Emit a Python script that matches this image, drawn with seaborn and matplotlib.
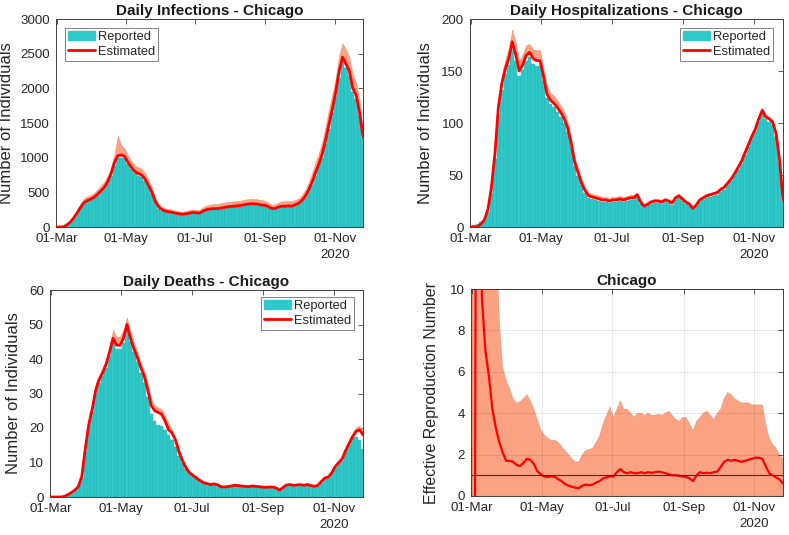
import numpy as np
import pandas as pd
import matplotlib
matplotlib.use("Agg")
import matplotlib.pyplot as plt
import seaborn as sns
from matplotlib.patches import Patch
from matplotlib.lines import Line2D

# ---------------- data (values every 3 days, 01-Mar-2020 .. 26-Nov-2020) ----------------
dates = pd.date_range("2020-03-01", "2020-11-26", freq="3D")

inf_reported = [0, 0, 0, 20, 60, 120, 190, 270, 340, 370,
                390, 420, 450, 500, 550, 620, 740, 880, 990, 1000,
                990, 910, 830, 780, 740, 720, 660, 570, 470, 340,
                260, 230, 215, 205, 195, 185, 180, 175, 180, 190,
                200, 195, 190, 215, 235, 245, 250, 250, 255, 265,
                275, 280, 285, 290, 295, 305, 315, 320, 320, 315,
                305, 300, 285, 260, 255, 270, 285, 285, 290, 285,
                305, 325, 360, 420, 500, 610, 740, 860, 1000, 1200,
                1420, 1650, 1880, 2150, 2380, 2300, 2180, 1950, 1850, 1600,
                1280]
inf_estimated = [0, 0, 2, 30, 70, 130, 200, 280, 350, 380,
                 400, 430, 470, 520, 570, 650, 770, 930, 1030, 1040,
                 1020, 930, 860, 800, 770, 750, 690, 600, 500, 370,
                 290, 250, 230, 220, 210, 200, 190, 185, 190, 200,
                 210, 205, 200, 230, 250, 260, 265, 265, 270, 280,
                 290, 295, 300, 305, 310, 320, 330, 335, 335, 330,
                 320, 315, 300, 270, 265, 285, 300, 300, 305, 300,
                 320, 340, 380, 440, 530, 640, 780, 900, 1050, 1250,
                 1480, 1700, 1950, 2250, 2450, 2350, 2250, 2000, 1900, 1650,
                 1300]
inf_upper = [0, 0, 5, 45, 95, 165, 245, 330, 410, 440,
             460, 490, 540, 600, 650, 740, 860, 1050, 1320, 1180,
             1130, 1030, 950, 890, 860, 840, 780, 680, 570, 420,
             330, 290, 270, 260, 250, 235, 225, 220, 230, 245,
             255, 250, 245, 285, 310, 320, 330, 330, 340, 350,
             360, 365, 370, 375, 380, 390, 400, 410, 405, 400,
             390, 380, 360, 325, 325, 350, 370, 370, 375, 370,
             390, 410, 460, 530, 640, 770, 930, 1060, 1230, 1450,
             1700, 1920, 2150, 2480, 2650, 2560, 2450, 2200, 2080, 1820,
             1380]

hos_reported = [1, 2, 3, 5, 6, 14, 33, 65, 108, 132,
                147, 156, 170, 160, 145, 151, 160, 163, 157, 155,
                155, 140, 124, 118, 115, 111, 106, 100, 91, 76,
                59, 49, 40, 33, 28, 27, 26, 25, 24, 24,
                23, 24, 24, 25, 24, 25, 26, 26, 29, 22,
                19, 21, 22, 23, 23, 22, 24, 23, 21, 26,
                28, 25, 22, 20, 17, 20, 24, 26, 28, 29,
                30, 31, 34, 36, 40, 44, 49, 55, 61, 69,
                77, 85, 92, 101, 109, 104, 101, 98, 87, 62,
                25]
hos_estimated = [0, 0, 0, 3, 7, 17, 38, 70, 115, 138,
                 152, 162, 178, 166, 150, 156, 165, 168, 162, 160,
                 160, 145, 128, 122, 119, 115, 110, 104, 95, 80,
                 62, 52, 42, 35, 30, 29, 28, 27, 26, 26,
                 25, 26, 26, 27, 26, 27, 28, 28, 31, 24,
                 20, 22, 24, 25, 25, 24, 26, 25, 23, 28,
                 30, 27, 24, 22, 18, 21, 26, 28, 30, 31,
                 32, 33, 36, 38, 42, 46, 51, 57, 63, 71,
                 79, 87, 94, 104, 112, 106, 104, 101, 90, 65,
                 26]
hos_upper = [0, 0, 0, 4, 8, 19, 41, 75, 122, 146,
             161, 172, 190, 178, 160, 166, 175, 176, 171, 170,
             170, 153, 136, 129, 126, 122, 117, 111, 101, 86,
             67, 56, 46, 38, 33, 32, 31, 30, 29, 29,
             28, 29, 29, 30, 29, 30, 31, 31, 33, 26,
             22, 24, 26, 27, 27, 26, 28, 27, 25, 30,
             32, 29, 26, 24, 20, 23, 28, 30, 32, 33,
             34, 35, 38, 40, 44, 48, 53, 59, 65, 73,
             81, 89, 96, 106, 115, 109, 106, 103, 92, 67,
             27]

dth_reported = [0, 0, 0, 0, 0.1, 0.5, 1.0, 1.8, 2.8, 5.5,
                13, 20, 24.5, 30, 33, 35, 37.5, 41, 44.5, 43,
                43, 44.5, 48, 45, 42, 39, 36, 33, 29, 24,
                22, 21, 20.5, 19.5, 18, 16.5, 14.5, 12, 10, 8,
                6.6, 6, 5.2, 4.5, 4, 3.7, 3.4, 3.6, 3.4, 2.8,
                2.7, 2.8, 3, 3.2, 3.1, 3, 2.9, 2.8, 3, 2.9,
                2.8, 2.7, 2.6, 2.7, 2.7, 2.4, 1.9, 2.6, 3.3, 3.4,
                3.2, 3.3, 3.4, 3.2, 3.4, 3.1, 2.9, 3.2, 4.2, 5.2,
                5.5, 6.6, 8.4, 9.6, 10.5, 13, 15, 17, 17.5, 16.5,
                14]
dth_estimated = [0, 0, 0, 0, 0.2, 0.7, 1.3, 2.0, 3.0, 6,
                 14, 21, 25.5, 31, 34, 36, 38.5, 42, 46, 44,
                 44, 46, 50, 46, 43, 40.5, 37.5, 35, 31, 26.5,
                 25, 24.5, 24, 22, 19.5, 18.5, 16.5, 13, 10.5, 8.5,
                 7, 6.3, 5.5, 4.8, 4.2, 3.9, 3.6, 3.8, 3.6, 3.0,
                 2.9, 3.0, 3.2, 3.4, 3.3, 3.2, 3.1, 3.0, 3.2, 3.1,
                 3.0, 2.9, 2.8, 2.9, 2.9, 2.6, 2.0, 2.8, 3.5, 3.6,
                 3.4, 3.5, 3.6, 3.4, 3.6, 3.3, 3.1, 3.4, 4.5, 5.5,
                 5.8, 7, 8.8, 10, 11, 13.5, 15.5, 17.5, 19, 19.5,
                 18]
dth_upper = [0, 0, 0, 0, 0.3, 0.8, 1.5, 2.3, 3.4, 6.6,
             15, 22, 26.5, 33, 35.5, 37.5, 40, 44, 48.5, 46.5,
             46.5, 48.5, 52, 48, 45, 42, 39, 36.5, 33, 28.5,
             26.5, 26, 25.5, 23.5, 21.5, 19.5, 17, 14, 11.3, 9.2,
             7.6, 6.8, 6, 5.2, 4.6, 4.3, 4.0, 4.2, 4.0, 3.4,
             3.2, 3.3, 3.5, 3.7, 3.6, 3.5, 3.4, 3.3, 3.5, 3.4,
             3.3, 3.2, 3.1, 3.2, 3.2, 2.9, 2.3, 3.1, 3.8, 3.9,
             3.7, 3.8, 3.9, 3.7, 3.9, 3.6, 3.4, 3.7, 4.9, 5.9,
             6.2, 7.5, 9.4, 10.7, 11.8, 14.4, 16.5, 18.6, 20.2, 20.7,
             19.2]

rt_estimated = [np.nan, 0, 60, 9.5, 7.0, 5.8, 4.2, 3.3, 2.6, 2.1,
                1.7, 1.7, 1.65, 1.5, 1.45, 1.6, 1.8, 1.75, 1.55, 1.2,
                1.05, 0.95, 0.92, 0.95, 0.93, 0.82, 0.72, 0.58, 0.5, 0.45,
                0.4, 0.38, 0.5, 0.55, 0.52, 0.55, 0.65, 0.72, 0.85, 0.9,
                0.95, 0.95, 1.15, 1.3, 1.15, 1.1, 1.15, 1.1, 1.1, 1.15,
                1.1, 1.15, 1.12, 1.15, 1.18, 1.15, 1.1, 1.05, 1.0, 1.0,
                0.98, 0.95, 0.92, 0.85, 0.72, 1.0, 1.15, 1.1, 1.12, 1.1,
                1.15, 1.18, 1.4, 1.65, 1.75, 1.7, 1.75, 1.7, 1.65, 1.7,
                1.75, 1.8, 1.85, 1.85, 1.8, 1.45, 1.1, 1.0, 0.9, 0.8,
                0.6]
rt_upper = [30, 30, 30, 30, 30, 25, 20, 14, 8.5, 6.2,
            5.6, 5.2, 4.7, 4.5, 4.55, 4.7, 4.9, 4.6, 4.2, 3.7,
            3.2, 2.95, 2.8, 2.7, 2.7, 2.6, 2.4, 2.2, 2.0, 1.8,
            1.65, 1.65, 2.0, 2.2, 2.25, 2.3, 2.6, 2.9, 3.5, 3.9,
            4.3, 3.8, 4.2, 4.6, 4.2, 4.2, 4.0, 3.8, 4.0, 4.0,
            3.9, 4.0, 3.9, 3.9, 3.95, 3.9, 4.0, 4.1, 3.9, 3.7,
            3.6, 3.8, 3.8, 3.5, 3.15, 3.6, 3.8, 4.0, 4.1, 3.9,
            3.7, 4.0, 4.2, 4.7, 5.0, 4.9, 4.7, 4.6, 4.5, 4.5,
            4.5, 4.4, 4.4, 4.4, 4.4, 3.5, 2.8, 2.5, 2.3, 2.0,
            1.8]
rt_lower = [0] * len(rt_upper)

tick_dates = pd.to_datetime(["2020-03-01", "2020-05-01", "2020-07-01", "2020-09-01", "2020-11-01"])
tick_labels = ["01-Mar", "01-May", "01-Jul", "01-Sep", "01-Nov\n2020"]

titles = ["Daily Infections - Chicago", "Daily Hospitalizations - Chicago",
          "Daily Deaths - Chicago", "Chicago"]

# ---------------- style ----------------
sns.set_theme(style="white")
plt.rcParams['font.family'] = ['Liberation Sans', 'DejaVu Sans']

TEAL = '#30C9C9'
TEAL_EDGE = '#27AFAF'
BAND = '#FBA283'
RED = '#FF0000'
AXC = '#404040'

start = dates[0]
day = np.asarray((dates - start).days, dtype=float)
tick_pos = np.asarray((tick_dates - start).days, dtype=float)
XMAX = float((pd.Timestamp("2020-11-26") - start).days)

fig = plt.figure(figsize=(7.89, 5.35), dpi=100)
positions = [
    [56 / 789, 1 - 227 / 535, 307 / 789, 208 / 535],
    [470 / 789, 1 - 227 / 535, 313 / 789, 208 / 535],
    [50 / 789, 1 - 497 / 535, 313 / 789, 207 / 535],
    [471 / 789, 1 - 496 / 535, 312 / 789, 207 / 535],
]
axes = [fig.add_axes(p) for p in positions]


def style_axes(ax, yticks, ylabel, title, labelpad):
    ax.set_xlim(-0.5, XMAX)
    ax.set_ylim(yticks[0], yticks[-1])
    ax.set_yticks(yticks)
    ax.set_xticks(tick_pos)
    ax.set_xticklabels(tick_labels)
    for lab in ax.get_xticklabels():
        lab.set_linespacing(1.45)
    ax.tick_params(direction='in', top=True, right=True, length=3.5, width=0.6,
                   colors=AXC, labelsize=9.6, labelcolor='#262626')
    ax.tick_params(axis='x', pad=4.5)
    ax.tick_params(axis='y', pad=4.5)
    for s in ax.spines.values():
        s.set_color(AXC)
        s.set_linewidth(0.7)
        s.set_visible(True)
    ax.set_ylabel(ylabel, fontsize=12, color='#262626', labelpad=labelpad)
    ax.set_xlabel("")
    ax.set_title(title, fontsize=11, fontweight='bold', color='#1a1a1a', pad=3)


def count_panel(ax, reported, estimated, upper, yticks, title, legend_loc, anchor, labelpad):
    df = pd.DataFrame({"day": day, "reported": reported})
    ax.fill_between(day, estimated, upper, color=BAND, lw=0.3, edgecolor='#D89078', zorder=1)
    sns.histplot(data=df, x="day", weights="reported", binwidth=3, binrange=(-1.5, XMAX + 1.5),
                 ax=ax, color=TEAL, alpha=1.0, edgecolor=TEAL_EDGE, linewidth=0.3, zorder=2)
    sns.lineplot(x=day, y=estimated, ax=ax, color=RED, lw=2.0, zorder=3)
    style_axes(ax, yticks, "Number of Individuals", title, labelpad)
    handles = [Patch(facecolor=TEAL, edgecolor=TEAL), Line2D([0], [0], color=RED, lw=2)]
    leg = ax.legend(handles, ["Reported", "Estimated"], loc=legend_loc, bbox_to_anchor=anchor,
                    fontsize=9.3, frameon=True, fancybox=False, framealpha=1, edgecolor='#707070',
                    borderpad=0.25, labelspacing=0.2, handlelength=2.1, handletextpad=0.2,
                    borderaxespad=0)
    leg.get_frame().set_linewidth(0.6)


count_panel(axes[0], inf_reported, inf_estimated, inf_upper, [0, 500, 1000, 1500, 2000, 2500, 3000],
            titles[0], 'upper left', (9 / 307, 1 - 9 / 208), 4)
count_panel(axes[1], hos_reported, hos_estimated, hos_upper, [0, 50, 100, 150, 200],
            titles[1], 'upper right', (1 - 10 / 313, 1 - 9 / 208), 6)
count_panel(axes[2], dth_reported, dth_estimated, dth_upper, [0, 10, 20, 30, 40, 50, 60],
            titles[2], 'upper right', (1 - 9 / 313, 1 - 7 / 207), 6)

# Rt panel
ax = axes[3]
ax.fill_between(day, rt_lower, rt_upper, color=BAND, lw=0.3, edgecolor='#D89078', zorder=1)
sns.lineplot(x=day, y=rt_estimated, ax=ax, color=RED, lw=1.6, zorder=3)
ax.axhline(1, color='#333333', lw=0.8, zorder=4)
style_axes(ax, [0, 2, 4, 6, 8, 10], "Effective Reproduction Number", titles[3], 8)
ax.yaxis.label.set_size(11.5)
ax.grid(True, color='#000000', alpha=0.1, lw=0.6)
ax.set_axisbelow(False)

fig.savefig("out.png", dpi=100)
